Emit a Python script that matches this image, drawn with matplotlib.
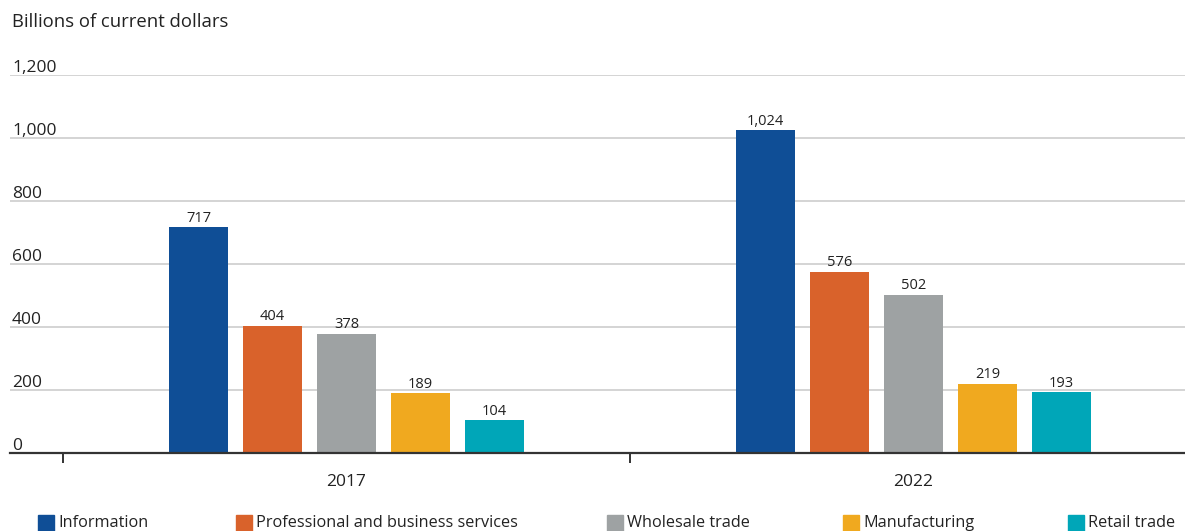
import matplotlib
matplotlib.use("Agg")
import matplotlib.pyplot as plt
from matplotlib.patches import Rectangle
import numpy as np

plt.rcParams['font.family'] = ['Open Sans', 'DejaVu Sans']

years = ["2017", "2022"]
industries = ["Information", "Professional and business services",
              "Wholesale trade", "Manufacturing", "Retail trade"]
values = {
    "Information": [717, 1024],
    "Professional and business services": [404, 576],
    "Wholesale trade": [378, 502],
    "Manufacturing": [189, 219],
    "Retail trade": [104, 193],
}
colors = ["#0f4e96", "#d9622b", "#9ea2a3", "#f0a91f", "#00a6b8"]
yticks = [0, 200, 400, 600, 800, 1000, 1200]
ytick_labels = ["0", "200", "400", "600", "800", "1,000", "1,200"]

W, H = 1185, 531
fig = plt.figure(figsize=(W / 100, H / 100), dpi=100)
ax = fig.add_axes([10 / W, 1 - 453 / H, 1 - 10 / W, (453 - 75) / H])

x = np.arange(len(years))
step = 74 / 567
width = 59 / 567
n = len(industries)
for i, (name, c) in enumerate(zip(industries, colors)):
    pos = x + (i - (n - 1) / 2) * step
    bars = ax.bar(pos, values[name], width=width, color=c, zorder=3)
    for b, v in zip(bars, values[name]):
        ax.text(b.get_x() + b.get_width() / 2, v + 5, f"{v:,}",
                ha="center", va="bottom", fontsize=10.5, color="#222222")

ax.set_ylim(0, 1200)
ax.set_xlim(-0.5 - 53 / 567, 1.5 - 12 / 567)

# horizontal gridlines with labels sitting just above them
for t, lab in zip(yticks, ytick_labels):
    if t > 0:
        ax.axhline(t, color="#d4d4d4", lw=1.4, zorder=1)
    ax.annotate(lab, xy=(0, t), xycoords=("axes fraction", "data"),
                xytext=(1.5, -1), textcoords="offset points",
                ha="left", va="bottom", fontsize=12.5, color="#222222")
ax.set_yticks([])

for s in ["top", "right", "left"]:
    ax.spines[s].set_visible(False)
ax.spines["bottom"].set_color("#333333")
ax.spines["bottom"].set_linewidth(1.6)
ax.spines["bottom"].set_zorder(4)

ax.set_xticks(x)
ax.set_xticklabels(years, fontsize=12.5, color="#222222")
ax.tick_params(axis="x", which="major", length=0, pad=15)
ax.set_xticks([-0.5, 0.5], minor=True)
ax.tick_params(axis="x", which="minor", length=7, width=1.4, color="#333333")

fig.text(12 / W, 1 - 22 / H, "Billions of current dollars", ha="left",
         va="center", fontsize=13.3, color="#222222")

# legend along the bottom
legend_x = [38, 236, 607, 843, 1068]
for lx, name, c in zip(legend_x, industries, colors):
    fig.patches.append(Rectangle((lx / W, 0), 16 / W, 16 / H,
                                 transform=fig.transFigure, color=c))
    fig.text((lx + 20) / W, 8 / H, name, ha="left", va="center",
             fontsize=11.7, color="#222222")

fig.savefig("out.png", dpi=100)
